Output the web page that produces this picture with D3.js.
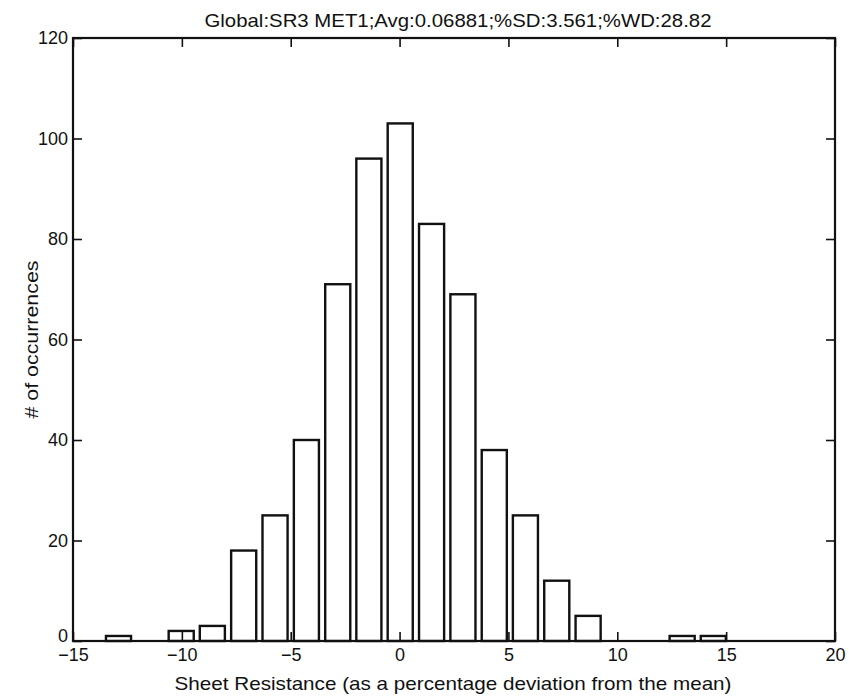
<!DOCTYPE html>
<html>
<head>
<meta charset="utf-8">
<script src="https://cdn.jsdelivr.net/npm/d3@7"></script>
<style>
  body { margin: 0; background: #fff; }
  text { font-family: "Liberation Sans", Arial, sans-serif; fill: #111; }
</style>
</head>
<body>
<div id="chart"></div>
<script>
// bin centres and counts
var binCenters = [-12.91, -11.47, -10.03, -8.60, -7.16, -5.72, -4.28, -2.84, -1.41, 0.03,
                  1.47, 2.91, 4.35, 5.78, 7.22, 8.66, 10.10, 11.54, 12.98, 14.41];
var counts = [1, 0, 2, 3, 18, 25, 40, 71, 96, 103,
              83, 69, 38, 25, 12, 5, 0, 0, 1, 1];
var xTicks = [-15, -10, -5, 0, 5, 10, 15, 20];
var yTicks = [0, 20, 40, 60, 80, 100, 120];

var titleText = "Global:SR3 MET1;Avg:0.06881;%SD:3.561;%WD:28.82";
var xLabel = "Sheet Resistance (as a percentage deviation from the mean)";
var yLabel = "# of occurrences";

var W = 849, H = 696;
var margin = {top: 38, right: 14, bottom: 55, left: 73};
var width = W - margin.left - margin.right;
var height = H - margin.top - margin.bottom;
var tickLen = 9;
var ink = "#111";

var svg = d3.select("#chart")
  .append("svg")
  .attr("width", W)
  .attr("height", H);

var g = svg.append("g")
  .attr("transform", "translate(" + margin.left + "," + margin.top + ")");

var x = d3.scaleLinear().domain([-15, 20]).range([0, width]);
var y = d3.scaleLinear().domain([0, 120]).range([height, 0]);

var data = binCenters.map(function(c, i) { return {c: c, n: counts[i]}; });
var binW = binCenters[1] - binCenters[0];

// bars (matlab hist style, 80% of bin width, white fill)
g.selectAll(".bar")
  .data(data.filter(function(d) { return d.n > 0; }))
  .enter().append("rect")
  .attr("class", "bar")
  .attr("x", function(d) { return x(d.c - binW * 0.4); })
  .attr("y", function(d) { return y(d.n); })
  .attr("width", function(d) { return x(d.c + binW * 0.4) - x(d.c - binW * 0.4); })
  .attr("height", function(d) { return height - y(d.n); })
  .attr("fill", "#fff")
  .attr("stroke", ink)
  .attr("stroke-width", 2.4);

// inner ticks on all four sides
g.append("g")
  .attr("transform", "translate(0," + height + ")")
  .call(d3.axisBottom(x).tickValues(xTicks).tickSize(-tickLen).tickPadding(7)
    .tickFormat(function(d) { return d < 0 ? "\u2212" + Math.abs(d) : d; }))
  .call(function(a) {
    a.select(".domain").remove();
    a.selectAll("line").attr("stroke", ink).attr("stroke-width", 1.6);
    a.selectAll("text").attr("font-size", 18).style("font-family", "'Liberation Sans', Arial, sans-serif").attr("fill", ink);
  });

g.append("g")
  .call(d3.axisTop(x).tickValues(xTicks).tickSize(-tickLen).tickFormat(""))
  .call(function(a) {
    a.select(".domain").remove();
    a.selectAll("line").attr("stroke", ink).attr("stroke-width", 1.6);
  });

g.append("g")
  .call(d3.axisLeft(y).tickValues(yTicks).tickSize(-tickLen).tickPadding(5))
  .call(function(a) {
    a.select(".domain").remove();
    a.selectAll("line").attr("stroke", ink).attr("stroke-width", 1.6);
    a.selectAll("text").attr("font-size", 18).style("font-family", "'Liberation Sans', Arial, sans-serif").attr("fill", ink);
    // lift the "0" a little so it clears the "-15" below it
    a.selectAll(".tick text").filter(function(d) { return d === 0; }).attr("dy", "0em");
  });

g.append("g")
  .attr("transform", "translate(" + width + ",0)")
  .call(d3.axisRight(y).tickValues(yTicks).tickSize(-tickLen).tickFormat(""))
  .call(function(a) {
    a.select(".domain").remove();
    a.selectAll("line").attr("stroke", ink).attr("stroke-width", 1.6);
  });

// frame
g.append("rect")
  .attr("width", width)
  .attr("height", height)
  .attr("fill", "none")
  .attr("stroke", ink)
  .attr("stroke-width", 2.2);

// title and labels
svg.append("text")
  .attr("x", 458)
  .attr("y", 27)
  .attr("text-anchor", "middle")
  .attr("font-size", 19)
  .attr("textLength", 507)
  .attr("lengthAdjust", "spacingAndGlyphs")
  .text(titleText);

svg.append("text")
  .attr("x", 453)
  .attr("y", 690)
  .attr("text-anchor", "middle")
  .attr("font-size", 19)
  .attr("textLength", 557)
  .attr("lengthAdjust", "spacingAndGlyphs")
  .text(xLabel);

svg.append("text")
  .attr("transform", "translate(38," + (margin.top + height / 2) + ") rotate(-90)")
  .attr("text-anchor", "middle")
  .attr("font-size", 19)
  .attr("textLength", 158)
  .attr("lengthAdjust", "spacingAndGlyphs")
  .text(yLabel);
</script>
</body>
</html>
